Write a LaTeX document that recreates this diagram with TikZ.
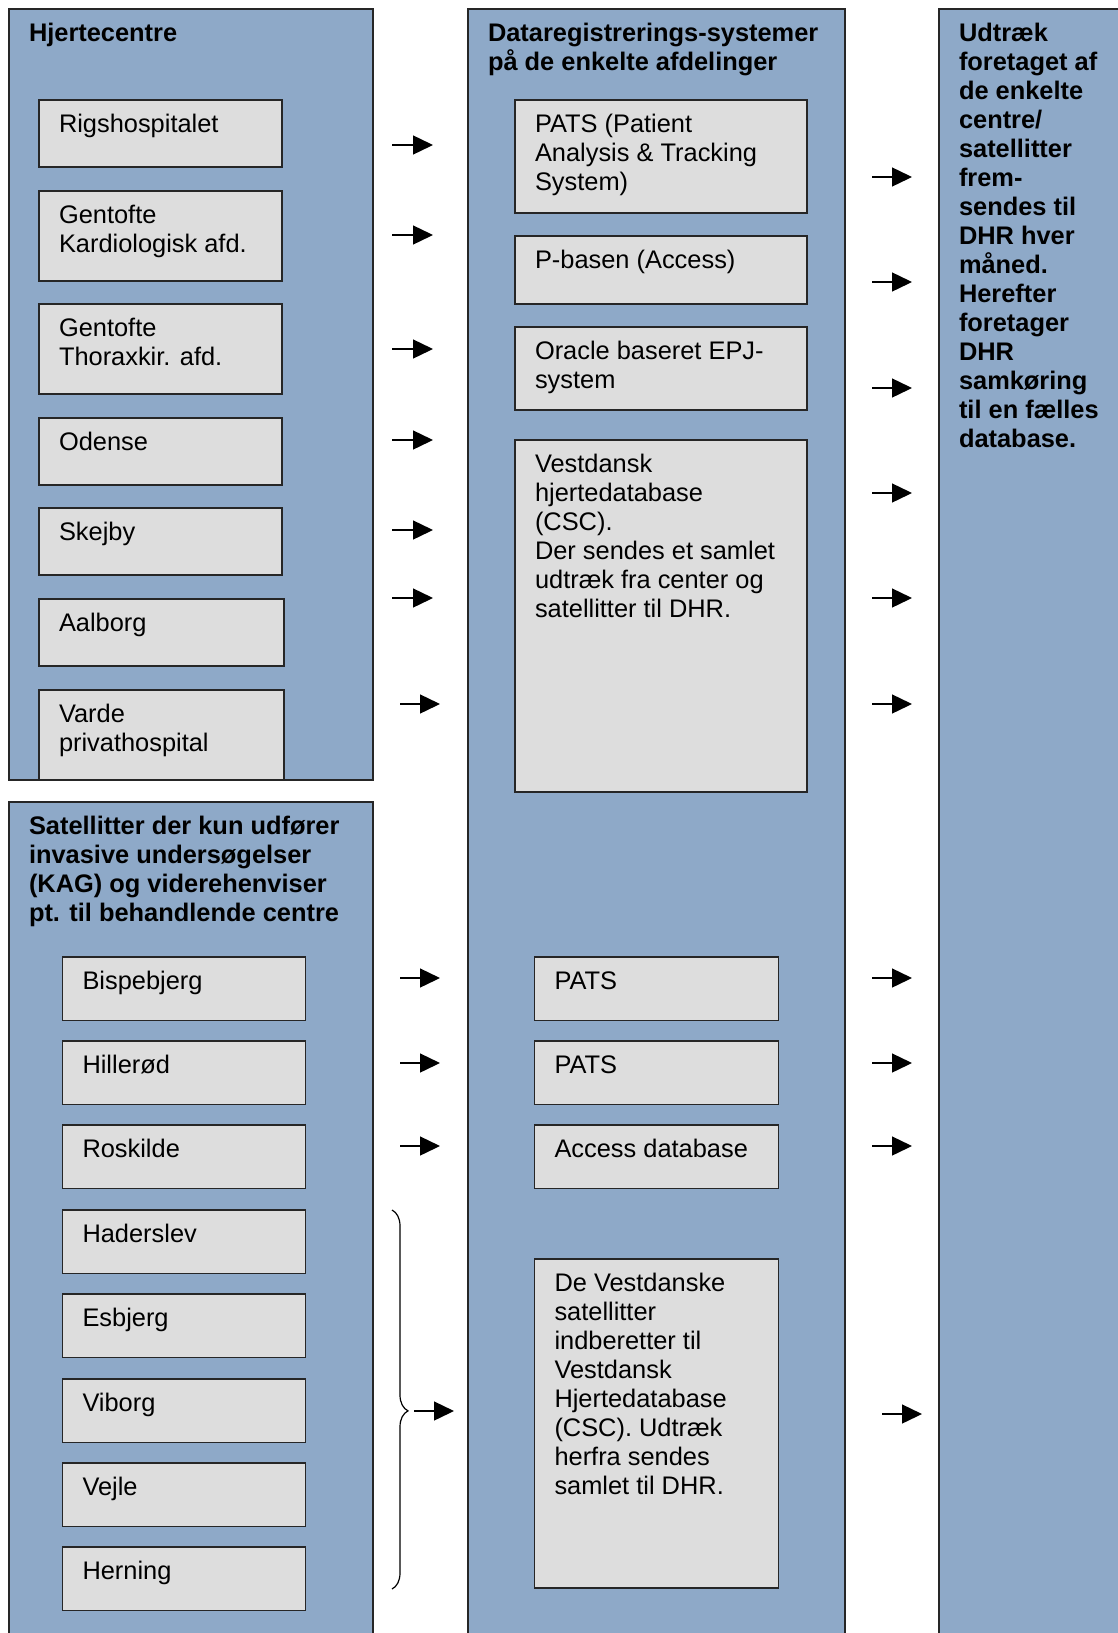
\documentclass[tikz,border=0pt]{standalone}
\usepackage{fontspec}
\setmainfont{Liberation Sans}
\usetikzlibrary{arrows.meta,decorations.pathreplacing}

\definecolor{panelblue}{RGB}{142,169,200}
\definecolor{cellgray}{RGB}{221,221,221}

% box content: width and height in px, text set from the top left
\newcommand{\cellbody}[3]{\parbox[t][\dimexpr #2pt/2-12.6pt\relax][t]{\dimexpr #1pt/2-20pt\relax}{\lineskiplimit=-5pt\raggedright\strut #3}}

\tikzset{
  panel/.style={draw=black!85, fill=panelblue, line width=0.9pt, anchor=north west,
    inner xsep=10pt, inner ysep=6.3pt, outer sep=0pt, font=\fontsize{12.7}{14.5}\selectfont\bfseries},
  cell/.style={panel, fill=cellgray, font=\fontsize{12.7}{14.5}\selectfont},
  flow/.style={line width=0.7pt, -{Triangle[length=10pt,width=9.5pt]}},
}

\begin{document}
\begin{tikzpicture}[x=0.5pt,y=-0.5pt]
        \useasboundingbox (0,0) rectangle (1118,1633);

        % kolonner
        \node[panel] (hjerte) at (9,9) {\cellbody{364}{771}{Hjertecentre}};
        \node[panel] (satellit) at (9,802) {\cellbody{364}{850}{Satellitter der kun udfører\\invasive undersøgelser\\(KAG) og viderehenviser\\pt. til behandlende centre}};
        \node[panel] (registre) at (468,9) {\cellbody{377}{1645}{\mbox{Dataregistrerings-systemer}\\på de enkelte afdelinger}};
        \node[panel] (udtraek) at (939,9) {\cellbody{200}{1645}{Udtræk\\foretaget af\\de enkelte\\centre/\\satellitter\\frem-\\sendes til\\DHR hver\\måned.\\Herefter\\foretager\\DHR\\samkøring\\til en fælles\\database.}};

        % hjertecentre
        \node[cell] (rigs) at (39,100) {\cellbody{243}{67}{Rigshospitalet}};
        \node[cell] (gentk) at (39,191) {\cellbody{243}{90}{Gentofte\\Kardiologisk afd.}};
        \node[cell] (gentt) at (39,304) {\cellbody{243}{90}{Gentofte\\Thoraxkir. afd.}};
        \node[cell] (odense) at (39,418) {\cellbody{243}{67}{Odense}};
        \node[cell] (skejby) at (39,508) {\cellbody{243}{67}{Skejby}};
        \node[cell] (aalborg) at (39,599) {\cellbody{245}{67}{Aalborg}};
        \node[cell] (varde) at (39,690) {\cellbody{245}{90}{Varde\\privathospital}};

        % systemer for centrene
        \node[cell] (pats) at (515,100) {\cellbody{292}{113}{PATS (Patient\\Analysis \& Tracking\\System)}};
        \node[cell] (pbasen) at (515,236) {\cellbody{292}{68}{P-basen (Access)}};
        \node[cell] (oracle) at (515,327) {\cellbody{292}{83}{Oracle baseret EPJ-\\system}};
        \node[cell] (vdb) at (515,440) {\cellbody{292}{352}{Vestdansk\\hjertedatabase\\(CSC).\\Der sendes et samlet\\udtræk fra center og\\satellitter til DHR.}};

        % satellitter
        \node[cell] (bisp) at (62.5,957) {\cellbody{243}{63.5}{Bispebjerg}};
        \node[cell] (hill) at (62.5,1041) {\cellbody{243}{63.5}{Hillerød}};
        \node[cell] (rosk) at (62.5,1125) {\cellbody{243}{63.5}{Roskilde}};
        \node[cell] (hader) at (62.5,1210) {\cellbody{243}{63.5}{Haderslev}};
        \node[cell] (esb) at (62.5,1294) {\cellbody{243}{63.5}{Esbjerg}};
        \node[cell] (vib) at (62.5,1379) {\cellbody{243}{63.5}{Viborg}};
        \node[cell] (vejle) at (62.5,1463) {\cellbody{243}{63.5}{Vejle}};
        \node[cell] (hern) at (62.5,1547) {\cellbody{243}{63.5}{Herning}};

        % systemer for satellitterne
        \node[cell] (pats2) at (534.5,957) {\cellbody{244}{63.5}{PATS}};
        \node[cell] (pats3) at (534.5,1041) {\cellbody{244}{63.5}{PATS}};
        \node[cell] (access) at (534.5,1125) {\cellbody{244}{63.5}{Access database}};
        \node[cell] (vsat) at (534.5,1259) {\cellbody{244}{329}{De Vestdanske\\satellitter\\indberetter til\\Vestdansk\\Hjertedatabase\\(CSC). Udtræk\\herfra sendes\\samlet til DHR.}};

        % pile
        \coordinate (l1a) at (392,145);  \coordinate (l1b) at (433,145);
        \coordinate (l2a) at (392,235);  \coordinate (l2b) at (433,235);
        \coordinate (l3a) at (392,349);  \coordinate (l3b) at (433,349);
        \coordinate (l4a) at (392,440);  \coordinate (l4b) at (433,440);
        \coordinate (l5a) at (392,530);  \coordinate (l5b) at (433,530);
        \coordinate (l6a) at (392,598);  \coordinate (l6b) at (433,598);
        \coordinate (l7a) at (400,704);  \coordinate (l7b) at (440,704);
        \coordinate (r1a) at (872,177);  \coordinate (r1b) at (912,177);
        \coordinate (r2a) at (872,282);  \coordinate (r2b) at (912,282);
        \coordinate (r3a) at (872,388);  \coordinate (r3b) at (912,388);
        \coordinate (r4a) at (872,493);  \coordinate (r4b) at (912,493);
        \coordinate (r5a) at (872,598);  \coordinate (r5b) at (912,598);
        \coordinate (r6a) at (872,704);  \coordinate (r6b) at (912,704);
        \coordinate (s1a) at (400,978);  \coordinate (s1b) at (440,978);
        \coordinate (s2a) at (400,1063); \coordinate (s2b) at (440,1063);
        \coordinate (s3a) at (400,1146); \coordinate (s3b) at (440,1146);
        \coordinate (s4a) at (414,1411); \coordinate (s4b) at (454,1411);
        \coordinate (t1a) at (872,978);  \coordinate (t1b) at (912,978);
        \coordinate (t2a) at (872,1063); \coordinate (t2b) at (912,1063);
        \coordinate (t3a) at (872,1146); \coordinate (t3b) at (912,1146);
        \coordinate (t4a) at (882,1414); \coordinate (t4b) at (922,1414);
        \coordinate (bra) at (392,1210); \coordinate (brb) at (392,1589);

        \path [flow] (l1a) edge (l1b) (l2a) edge (l2b) (l3a) edge (l3b) (l4a) edge (l4b)
                     (l5a) edge (l5b) (l6a) edge (l6b) (l7a) edge (l7b);
        \path [flow] (r1a) edge (r1b) (r2a) edge (r2b) (r3a) edge (r3b) (r4a) edge (r4b)
                     (r5a) edge (r5b) (r6a) edge (r6b);
        \path [flow] (s1a) edge (s1b) (s2a) edge (s2b) (s3a) edge (s3b) (s4a) edge (s4b);
        \path [flow] (t1a) edge (t1b) (t2a) edge (t2b) (t3a) edge (t3b) (t4a) edge (t4b);

        \draw [line width=0.6pt, decorate, decoration={brace, amplitude=8pt, aspect=0.53}] (bra) -- (brb);
    \end{tikzpicture}
\end{document}
